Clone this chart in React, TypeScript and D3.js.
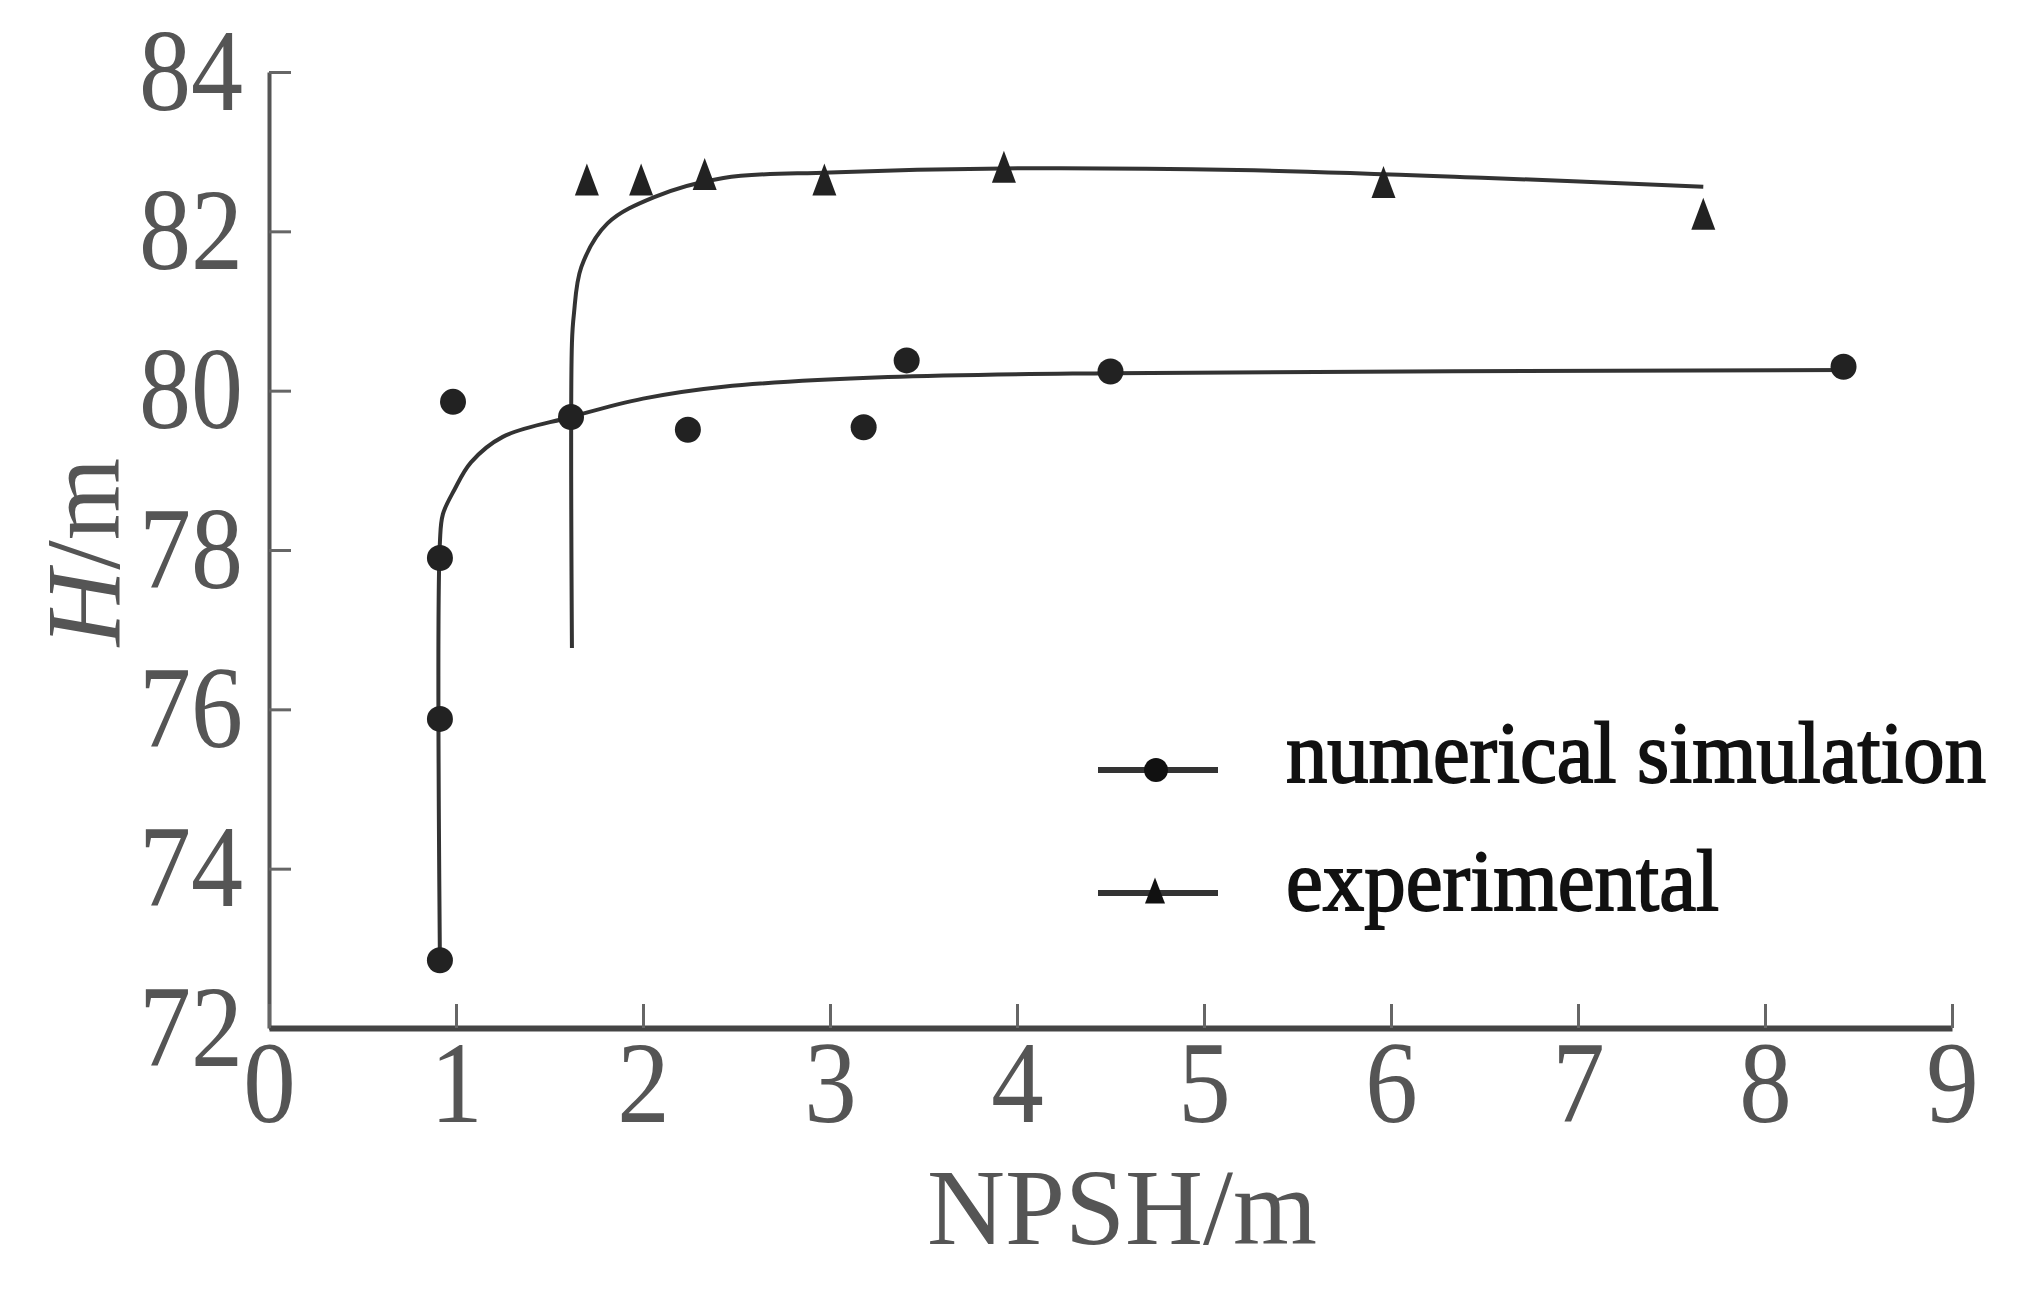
import React, { useEffect, useRef } from 'react'
import * as d3 from 'd3'

const W = 2021
const H = 1296
const margin = { top: 72, right: 69, bottom: 268, left: 269 }
const serif = '"Liberation Serif", "Times New Roman", serif'

// axis ticks
const xTicks = [0, 1, 2, 3, 4, 5, 6, 7, 8, 9]
const yTicks = [72, 74, 76, 78, 80, 82, 84]

// numerical simulation points
const simX = [0.914, 0.914, 0.914, 0.984, 1.615, 2.24, 3.18, 3.41, 4.5, 8.42]
const simH = [72.85, 75.88, 77.9, 79.86, 79.67, 79.51, 79.54, 80.38, 80.24, 80.3]

// experimental points
const expX = [1.7, 1.99, 2.33, 2.97, 3.93, 5.96, 7.67]
const expH = [82.61, 82.61, 82.68, 82.61, 82.77, 82.58, 82.18]

// fitted curves
const simFitX = [0.914, 0.914, 0.93, 0.99, 1.08, 1.25, 1.615, 2.0, 2.43, 3.31, 4.5, 8.44]
const simFitH = [72.85, 78.1, 78.45, 78.75, 79.1, 79.42, 79.67, 79.9, 80.05, 80.17, 80.22, 80.26]
const expFitX = [1.62, 1.62, 1.63, 1.67, 1.81, 2.06, 2.43, 3.0, 3.93, 5.18, 6.52, 7.67]
const expFitH = [76.77, 80.6, 80.95, 81.55, 82.1, 82.43, 82.67, 82.74, 82.79, 82.77, 82.67, 82.56]

const seriesNames = ['numerical simulation', 'experimental']

function triangle(cx: number, cy: number, w: number, h: number) {
  return `M${cx},${cy - h * 0.6}L${cx + w / 2},${cy + h * 0.4}L${cx - w / 2},${cy + h * 0.4}Z`
}

const App = () => {
  const ref = useRef<SVGSVGElement>(null)

  useEffect(() => {
    const svg = d3.select(ref.current)
    svg.selectAll('*').remove()

    const x = d3.scaleLinear().domain([0, 9]).range([margin.left, W - margin.right])
    const y = d3.scaleLinear().domain([72, 84]).range([H - margin.bottom, margin.top])

    svg.append('rect').attr('width', W).attr('height', H).attr('fill', '#fff')

    // y axis
    const gy = svg.append('g')
      .attr('transform', `translate(${margin.left},0)`)
      .call(d3.axisLeft(y).tickValues(yTicks).tickSizeInner(-22).tickSizeOuter(0).tickPadding(26))
    gy.attr('font-family', null)
    gy.select('.domain').attr('stroke', '#555').attr('stroke-width', 4)
    gy.selectAll('.tick line').attr('stroke', '#666').attr('stroke-width', 3)
    gy.selectAll('.tick text')
      .style('font-family', serif)
      .attr('font-size', 104)
      .attr('fill', '#555')
      .attr('transform', 'scale(1,1.12)')

    // x axis
    const gx = svg.append('g')
      .attr('transform', `translate(0,${H - margin.bottom})`)
      .call(d3.axisBottom(x).tickValues(xTicks).tickSizeInner(-24).tickSizeOuter(0).tickPadding(11))
    gx.attr('font-family', null)
    gx.select('.domain').attr('stroke', '#444').attr('stroke-width', 6)
    gx.selectAll('.tick line').attr('stroke', '#666').attr('stroke-width', 3)
    gx.selectAll('.tick text')
      .style('font-family', serif)
      .attr('font-size', 105)
      .attr('fill', '#555')
      .attr('transform', 'scale(1,1.1)')

    // axis titles
    svg.append('text')
      .attr('x', 1122).attr('y', 1244)
      .attr('text-anchor', 'middle')
      .style('font-family', serif)
      .attr('font-size', 108)
      .attr('fill', '#555')
      .text('NPSH/m')

    const yt = svg.append('text')
      .attr('transform', 'translate(119,552) rotate(-90)')
      .attr('text-anchor', 'middle')
      .style('font-family', serif)
      .attr('font-size', 106)
      .attr('fill', '#555')
    yt.append('tspan').attr('font-style', 'italic').text('H')
    yt.append('tspan').text('/m')

    // fitted curves
    const line = d3.line<[number, number]>()
      .x(d => x(d[0]))
      .y(d => y(d[1]))
      .curve(d3.curveCatmullRom.alpha(0.5))

    svg.append('path')
      .attr('d', line(simFitX.map((v, i) => [v, simFitH[i]]))!)
      .attr('fill', 'none').attr('stroke', '#333').attr('stroke-width', 4)
    svg.append('path')
      .attr('d', line(expFitX.map((v, i) => [v, expFitH[i]]))!)
      .attr('fill', 'none').attr('stroke', '#333').attr('stroke-width', 4)

    // markers
    svg.append('g').selectAll('circle')
      .data(simX.map((v, i) => [v, simH[i]]))
      .join('circle')
      .attr('cx', d => x(d[0]))
      .attr('cy', d => y(d[1]))
      .attr('r', 13)
      .attr('fill', '#222')

    svg.append('g').selectAll('path')
      .data(expX.map((v, i) => [v, expH[i]]))
      .join('path')
      .attr('d', d => triangle(x(d[0]), y(d[1]), 24, 32))
      .attr('fill', '#222')

    // legend
    const legY = [770, 893]
    const legend = svg.append('g')
    seriesNames.forEach((name, i) => {
      legend.append('line')
        .attr('x1', 1098).attr('x2', 1218)
        .attr('y1', legY[i]).attr('y2', legY[i])
        .attr('stroke', '#333').attr('stroke-width', 6)
      if (i === 0) {
        legend.append('circle').attr('cx', 1156).attr('cy', legY[i]).attr('r', 12).attr('fill', '#111')
      } else {
        legend.append('path').attr('d', triangle(1155, legY[i], 20, 26)).attr('fill', '#111')
      }
      legend.append('text')
        .attr('x', 1286).attr('y', legY[i] + (i === 0 ? 12 : 17))
        .style('font-family', serif)
        .attr('font-size', 86)
        .attr('fill', '#111')
        .attr('stroke', '#111')
        .attr('stroke-width', 1.8)
        .attr('textLength', i === 0 ? 700 : 433)
        .attr('lengthAdjust', 'spacingAndGlyphs')
        .text(name)
    })
  }, [])

  return (
    <svg ref={ref} width={W} height={H} style={{ position: 'absolute', left: 0, top: 0, display: 'block' }} />
  )
}

export default App
